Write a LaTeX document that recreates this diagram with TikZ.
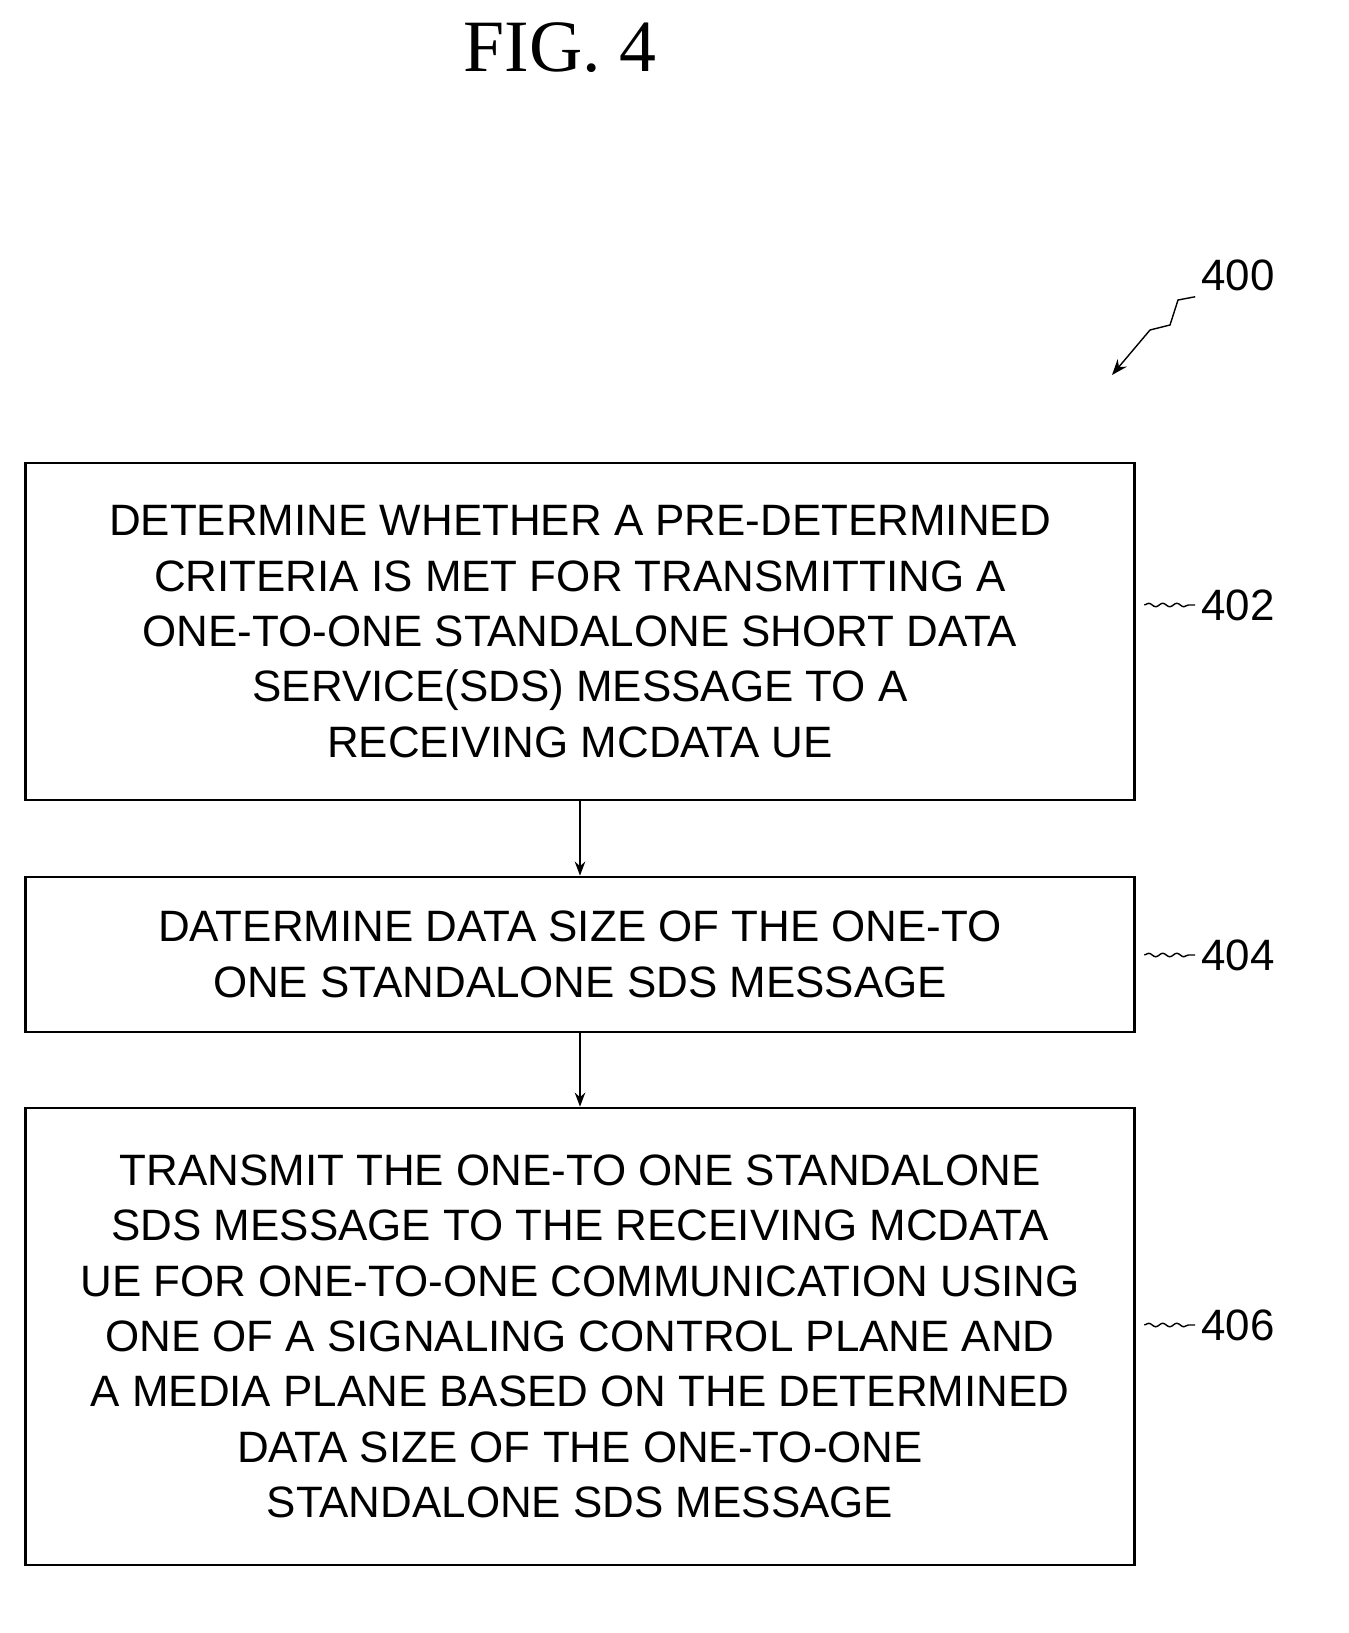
\documentclass[tikz,border=0pt]{standalone}
\usepackage{fontspec}
\setmainfont{Liberation Serif}
\newfontfamily\boxfont{Liberation Sans}
\usetikzlibrary{arrows.meta,decorations.pathmorphing}
\begin{document}
\begin{tikzpicture}[x=0.02cm,y=-0.02cm,
  box/.style={draw,line width=1.6pt,minimum width=22.2cm,align=center,font=\boxfont\fontsize{25}{31.5}\selectfont},
  lab/.style={font=\boxfont\fontsize{25}{28}\selectfont},
  lead/.style={line width=0.8pt,decorate,decoration={snake,amplitude=1pt,segment length=8pt}},
  arr/.style={line width=1pt,-{Stealth[length=8pt]}}]
\useasboundingbox (0,0) rectangle (1349,1633);
\node[font=\fontsize{42}{46}\selectfont] (title) at (560,48) {FIG. 4};
\node[box,minimum height=6.74cm] (b1) at (580,631.5) {DETERMINE WHETHER A PRE-DETERMINED\\CRITERIA IS MET FOR TRANSMITTING A\\ONE-TO-ONE STANDALONE SHORT DATA\\SERVICE(SDS) MESSAGE TO A\\RECEIVING MCDATA UE};
\node[box,minimum height=3.1cm] (b2) at (580,954.5) {DATERMINE DATA SIZE OF THE ONE-TO\\ONE STANDALONE SDS MESSAGE};
\node[box,minimum height=9.14cm] (b3) at (580,1336.5) {TRANSMIT THE ONE-TO ONE STANDALONE\\SDS MESSAGE TO THE RECEIVING MCDATA\\UE FOR ONE-TO-ONE COMMUNICATION USING\\ONE OF A SIGNALING CONTROL PLANE AND\\A MEDIA PLANE BASED ON THE DETERMINED\\DATA SIZE OF THE ONE-TO-ONE\\STANDALONE SDS MESSAGE};
\draw[arr] (b1) -- (b2);
\draw[arr] (b2) -- (b3);
\node[lab] (l402) at (1238,605) {402};
\node[lab] (l404) at (1238,955) {404};
\node[lab] (l406) at (1238,1325) {406};
\draw[lead] (b1.east |- l402) ++(8,0) -- (l402.west);
\draw[lead] (b2.east |- l404) ++(8,0) -- (l404.west);
\draw[lead] (b3.east |- l406) ++(8,0) -- (l406.west);
\node[lab] (l400) at (1238,275) {400};
\coordinate (t400) at (1112,375);
\draw[line width=0.8pt,-{Stealth[length=9pt]}] (l400.south west) -- (1178,300) -- (1170,325) -- (1150,330) -- (t400);
\end{tikzpicture}
\end{document}
